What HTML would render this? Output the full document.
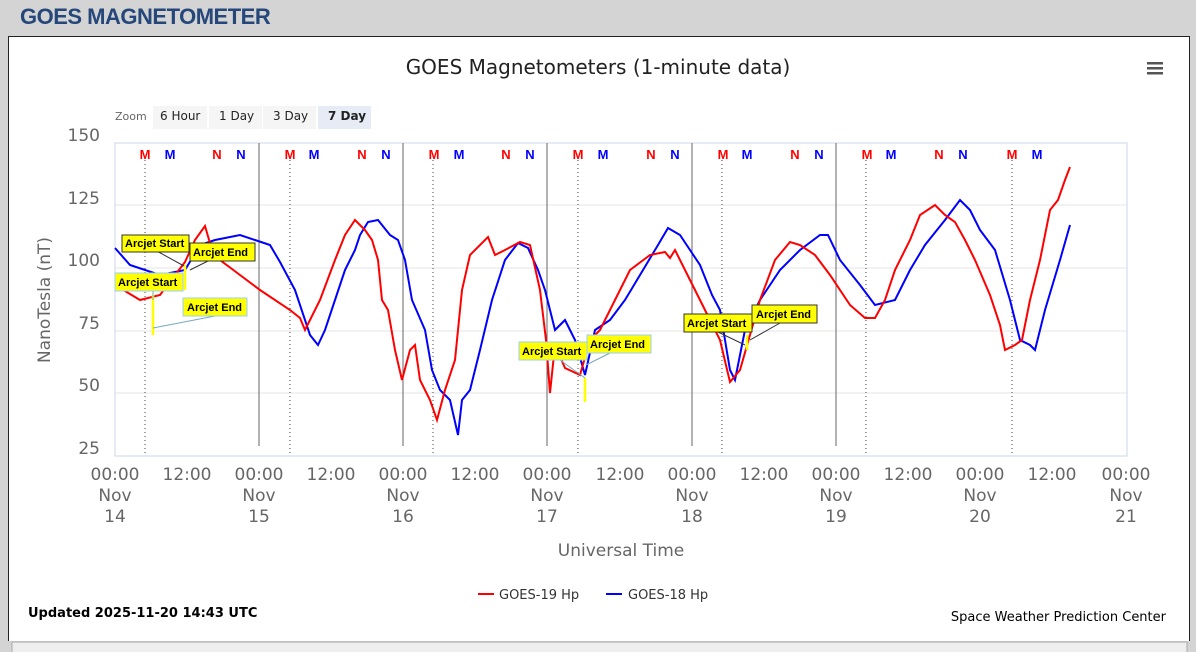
<!DOCTYPE html>
<html><head><style>
body{margin:0;width:1196px;height:652px;background:#d4d4d4;overflow:hidden;font-family:"Liberation Sans",sans-serif}
.h{position:absolute;left:20px;top:4px;font-size:22px;font-weight:bold;color:#25477a;letter-spacing:-0.5px}
.box{position:absolute;left:8px;top:36px;width:1180px;height:604px;background:#fff;border:1px solid #222;border-bottom:none}
svg{position:absolute;left:0;top:0}
</style></head><body>
<div class="h">GOES MAGNETOMETER</div>
<div class="box"></div>
<svg width="1196" height="652" font-family="DejaVu Sans, sans-serif">
<rect x="12" y="642" width="1175" height="12" fill="#eee" stroke="#aaa"/>
<text x="598" y="74" font-size="20" text-anchor="middle" fill="#222">GOES Magnetometers (1-minute data)</text>
<g fill="#555"><rect x="1147" y="62" width="16" height="2.5"/><rect x="1147" y="67" width="16" height="2.5"/><rect x="1147" y="72" width="16" height="2.5"/></g>
<text x="115" y="120" font-size="11" fill="#666">Zoom</text>
<rect x="153" y="106" width="54" height="23" fill="#f5f5f5"/><rect x="209" y="106" width="53" height="23" fill="#f5f5f5"/><rect x="263" y="106" width="53" height="23" fill="#f5f5f5"/><rect x="318" y="106" width="53" height="23" fill="#e6ebf5"/>
<g font-size="12" fill="#222"><text x="160" y="120">6 Hour</text><text x="219" y="120">1 Day</text><text x="273" y="120">3 Day</text><text x="328" y="120" font-weight="bold">7 Day</text></g>
<g stroke="#e6e6e6"><line x1="115" y1="205" x2="1127" y2="205"/><line x1="115" y1="268" x2="1127" y2="268"/><line x1="115" y1="331" x2="1127" y2="331"/><line x1="115" y1="393" x2="1127" y2="393"/></g>
<rect x="115" y="143" width="1012" height="313" fill="none" stroke="#ccd6eb"/>
<g font-size="17" fill="#666" text-anchor="end"><text x="100" y="141">150</text><text x="100" y="204">125</text><text x="100" y="266">100</text><text x="100" y="329">75</text><text x="100" y="391">50</text><text x="100" y="454">25</text></g>
<text transform="translate(50,300) rotate(-90)" font-size="17" fill="#666" text-anchor="middle">NanoTesla (nT)</text>
<g stroke="#666"><line x1="259" y1="143" x2="259" y2="446"/><line x1="403" y1="143" x2="403" y2="446"/><line x1="547" y1="143" x2="547" y2="446"/><line x1="692" y1="143" x2="692" y2="446"/><line x1="836" y1="143" x2="836" y2="446"/></g>
<g stroke="#444" stroke-dasharray="1,3"><line x1="145" y1="160" x2="145" y2="456"/><line x1="290" y1="160" x2="290" y2="456"/><line x1="433" y1="160" x2="433" y2="456"/><line x1="578" y1="160" x2="578" y2="456"/><line x1="722" y1="160" x2="722" y2="456"/><line x1="866" y1="160" x2="866" y2="456"/><line x1="1012" y1="160" x2="1012" y2="456"/></g>
<g font-size="13" font-weight="bold" text-anchor="middle" font-family="Liberation Sans, sans-serif">
<g fill="#f00"><text x="145" y="159">M</text><text x="217" y="159">N</text><text x="290" y="159">M</text><text x="362" y="159">N</text><text x="434" y="159">M</text><text x="506" y="159">N</text><text x="578" y="159">M</text><text x="651" y="159">N</text><text x="723" y="159">M</text><text x="795" y="159">N</text><text x="867" y="159">M</text><text x="939" y="159">N</text><text x="1012" y="159">M</text></g>
<g fill="#00f"><text x="170" y="159">M</text><text x="241" y="159">N</text><text x="314" y="159">M</text><text x="386" y="159">N</text><text x="459" y="159">M</text><text x="530" y="159">N</text><text x="603" y="159">M</text><text x="675" y="159">N</text><text x="747" y="159">M</text><text x="819" y="159">N</text><text x="891" y="159">M</text><text x="963" y="159">N</text><text x="1037" y="159">M</text></g></g>
<polyline fill="none" stroke="#00f" stroke-width="2" points="115,248 130,265 160,275 185,270 200,245 215,240 240,235 255,240 270,245 280,262 295,290 310,335 318,345 325,330 335,300 345,270 355,250 360,235 368,222 378,220 390,235 398,240 405,260 412,300 425,330 432,370 440,390 450,400 458,435 462,400 470,390 480,350 492,300 505,260 518,243 528,248 538,270 545,290 555,330 565,320 575,340 585,375 595,330 610,320 625,300 640,275 658,245 668,228 680,235 690,250 700,265 712,295 720,310 730,370 735,380 745,330 760,300 780,270 800,250 820,235 828,235 840,260 860,285 875,305 895,300 910,270 925,245 945,220 960,200 970,210 980,230 995,250 1010,300 1020,340 1030,345 1035,350 1045,310 1060,260 1070,225"/>
<polyline fill="none" stroke="#f00" stroke-width="2" points="115,285 140,300 160,295 185,262 195,240 205,226 212,250 220,260 240,275 260,290 290,310 300,318 305,330 320,300 335,260 345,235 355,220 365,230 372,240 378,260 382,300 388,310 395,350 402,380 410,350 415,345 420,380 430,400 437,420 445,390 455,360 462,290 470,255 488,237 495,255 505,250 520,242 530,245 540,290 546,340 550,393 555,345 565,368 580,375 590,340 600,330 615,300 630,270 650,255 665,252 670,258 675,250 690,280 710,320 720,340 730,382 740,370 760,300 775,260 790,242 800,245 815,255 830,275 850,305 865,318 875,318 885,300 895,270 910,240 920,215 935,205 945,215 955,222 965,240 975,260 990,295 1000,325 1005,350 1015,345 1022,340 1030,300 1040,260 1050,210 1058,200 1065,180 1070,167"/>
<g stroke="#ff0" stroke-width="2.5"><line x1="153" y1="295" x2="153" y2="335"/><line x1="185" y1="265" x2="185" y2="290"/><line x1="585" y1="378" x2="585" y2="402"/><line x1="747" y1="335" x2="747" y2="350"/></g>
<g stroke-width="1"><line x1="155" y1="250" x2="184" y2="266" stroke="#333"/><line x1="220" y1="255" x2="190" y2="270" stroke="#333"/><line x1="153" y1="290" x2="153" y2="300" stroke="#7ab"/><line x1="153" y1="328" x2="215" y2="316" stroke="#7ab"/><line x1="560" y1="360" x2="585" y2="378" stroke="#7ab"/><line x1="610" y1="353" x2="586" y2="365" stroke="#7ab"/><line x1="718" y1="332" x2="745" y2="345" stroke="#333"/><line x1="780" y1="323" x2="750" y2="340" stroke="#333"/></g>
<g font-size="11" font-weight="bold" fill="#000" font-family="Liberation Sans, sans-serif">
<rect x="122" y="235" width="67" height="17" fill="#ff0" stroke="#333"/><text x="125" y="247">Arcjet Start</text>
<rect x="190" y="243" width="65" height="18" fill="#ff0" stroke="#333"/><text x="193" y="256">Arcjet End</text>
<rect x="115" y="273" width="68" height="18" fill="#ff0" stroke="#9cf"/><text x="118" y="286">Arcjet Start</text>
<rect x="183" y="298" width="64" height="18" fill="#ff0" stroke="#9cf"/><text x="187" y="311">Arcjet End</text>
<rect x="519" y="342" width="68" height="18" fill="#ff0" stroke="#9cf"/><text x="522" y="355">Arcjet Start</text>
<rect x="587" y="335" width="64" height="18" fill="#ff0" stroke="#9cf"/><text x="590" y="348">Arcjet End</text>
<rect x="684" y="314" width="68" height="18" fill="#ff0" stroke="#333"/><text x="687" y="327">Arcjet Start</text>
<rect x="752" y="305" width="65" height="18" fill="#ff0" stroke="#333"/><text x="756" y="318">Arcjet End</text></g>
<g font-size="17" fill="#666" text-anchor="middle">
<text x="115" y="480">00:00</text><text x="115" y="501">Nov</text><text x="115" y="522">14</text>
<text x="187" y="480">12:00</text>
<text x="259" y="480">00:00</text><text x="259" y="501">Nov</text><text x="259" y="522">15</text>
<text x="331" y="480">12:00</text>
<text x="403" y="480">00:00</text><text x="403" y="501">Nov</text><text x="403" y="522">16</text>
<text x="475" y="480">12:00</text>
<text x="547" y="480">00:00</text><text x="547" y="501">Nov</text><text x="547" y="522">17</text>
<text x="620" y="480">12:00</text>
<text x="692" y="480">00:00</text><text x="692" y="501">Nov</text><text x="692" y="522">18</text>
<text x="764" y="480">12:00</text>
<text x="836" y="480">00:00</text><text x="836" y="501">Nov</text><text x="836" y="522">19</text>
<text x="908" y="480">12:00</text>
<text x="980" y="480">00:00</text><text x="980" y="501">Nov</text><text x="980" y="522">20</text>
<text x="1052" y="480">12:00</text>
<text x="1126" y="480">00:00</text><text x="1126" y="501">Nov</text><text x="1126" y="522">21</text>
<text x="621" y="556">Universal Time</text></g>
<line x1="478" y1="594" x2="494" y2="594" stroke="#f00" stroke-width="2"/><text x="499" y="599" font-size="13" fill="#333">GOES-19 Hp</text>
<line x1="606" y1="594" x2="622" y2="594" stroke="#00f" stroke-width="2"/><text x="628" y="599" font-size="13" fill="#333">GOES-18 Hp</text>
<text x="28" y="617" font-size="13" font-weight="bold" fill="#000">Updated 2025-11-20 14:43 UTC</text>
<text x="1166" y="621" font-size="13" fill="#000" text-anchor="end">Space Weather Prediction Center</text>
</svg>
</body></html>
